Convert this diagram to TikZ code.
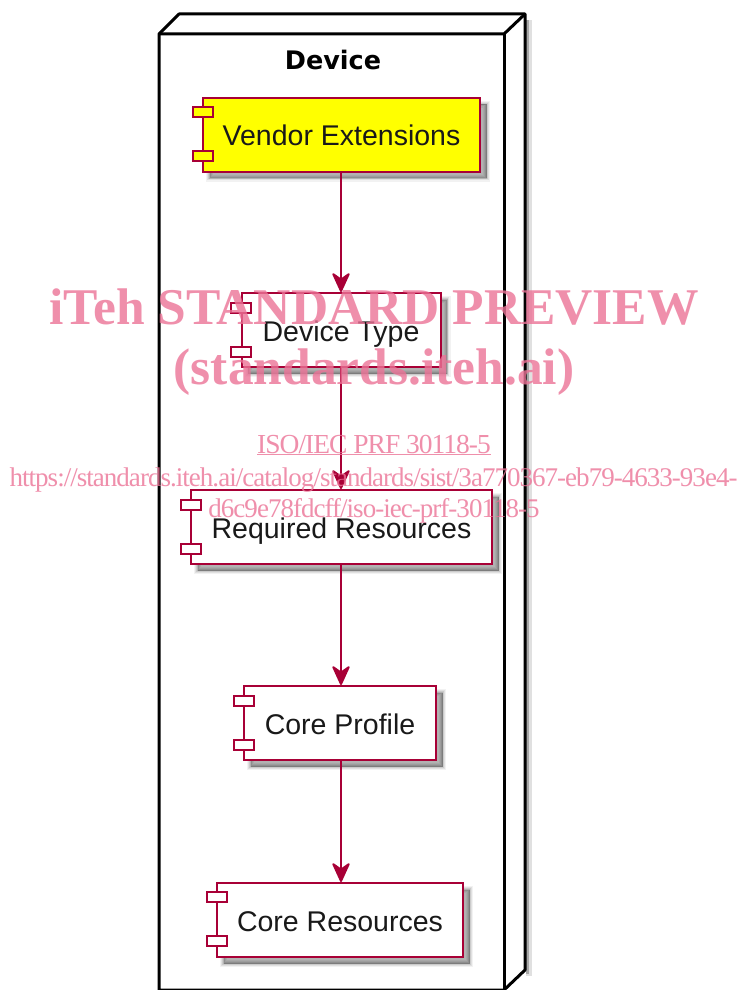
\documentclass[tikz,border=0pt]{standalone}
\usepackage{fontspec}
\setmainfont{Liberation Sans}
\newfontfamily\wmfont{Liberation Serif}
\newfontfamily\wmtight[LetterSpace=-3.6]{Liberation Serif}
\newfontfamily\titlefont{DejaVu Sans}
\usetikzlibrary{arrows.meta}
\definecolor{umlred}{HTML}{A80036}
\definecolor{wmpink}{HTML}{EC7397}
\definecolor{vendoryellow}{HTML}{FFFF00}
\tikzset{
  softshadow/.style={
    preaction={draw=black,fill=black,line width=7pt,opacity=.05,transform canvas={shift={(6.5pt,-6.5pt)}}},
    preaction={draw=black,fill=black,line width=4.5pt,opacity=.07,transform canvas={shift={(6.5pt,-6.5pt)}}},
    preaction={draw=black,fill=black,line width=2.5pt,opacity=.09,transform canvas={shift={(6.5pt,-6.5pt)}}},
    preaction={draw=black,fill=black,line width=.5pt,opacity=.12,transform canvas={shift={(6.5pt,-6.5pt)}}}},
  compbox/.style={draw=umlred,line width=2pt,fill=white,softshadow,minimum height=74pt,inner sep=0pt,
    font=\fontsize{28.5}{30}\selectfont,text=black!90,text height=22pt,text depth=0pt},
  comptab/.style={draw=umlred,line width=2pt,fill=white,minimum width=20pt,minimum height=10pt,inner sep=0pt},
  flow/.style={draw=umlred,line width=2pt,-{Stealth[length=22pt,width=20pt,inset=7pt,round]}},
  wmbig/.style={text=wmpink,opacity=.8,font=\wmfont\bfseries\fontsize{51.5}{53}\selectfont,anchor=base,inner sep=0pt},
  wmsmall/.style={text=wmpink,opacity=.8,font=\wmtight\fontsize{27}{29}\selectfont,anchor=base,inner sep=0pt},
  wmhead/.style={wmsmall,font=\wmtight\fontsize{27.5}{29}\selectfont},
  devline/.style={draw=black,line width=3pt,line join=round}
}
\begin{document}
\begin{tikzpicture}[x=1pt,y=-1pt]
\useasboundingbox (0,0) rectangle (737,990);
\fill[white] (0,0) rectangle (737,990);
% shadow of the 3D node
\fill[black,opacity=.12] (526,20) rectangle (532,976);
\fill[black,opacity=.25] (526,20) rectangle (529,974);
% device node
\draw[devline,fill=white] (159,34) -- (179,14) -- (525,14) -- (525,970) -- (504,990) -- (159,990) -- cycle;
\draw[devline] (159,34) -- (504,34) -- (525,14);
\draw[devline] (504,34) -- (504,990);
\node[font=\titlefont\bfseries\fontsize{25.5}{28}\selectfont,inner sep=0pt,anchor=base] (title) at (333,69.5) {Device};
% components
\node[compbox,fill=vendoryellow,minimum width=277pt] (vendor) at (341.5,134.5) {Vendor Extensions};
\node[compbox,minimum width=199pt] (dtype) at (341,330) {Device Type};
\node[compbox,minimum width=301pt] (req) at (341.5,527) {Required Resources};
\node[compbox,minimum width=192pt] (prof) at (340,723) {Core Profile};
\node[compbox,minimum width=246pt] (res) at (340,920) {Core Resources};
% tabs
\node[comptab,fill=vendoryellow] (v1) at (203,112) {};
\node[comptab,fill=vendoryellow] (v2) at (203,156) {};
\node[comptab] (d1) at (241,308) {};
\node[comptab] (d2) at (241,352) {};
\node[comptab] (r1) at (191,505) {};
\node[comptab] (r2) at (191,549) {};
\node[comptab] (p1) at (244,701) {};
\node[comptab] (p2) at (244,745) {};
\node[comptab] (c1) at (217,897) {};
\node[comptab] (c2) at (217,941) {};
% connectors
\draw[flow] (vendor.south -| dtype.north) -- (dtype.north);
\draw[flow] (dtype.south) -- (req.north -| dtype.south);
\draw[flow] (req.south -| dtype.south) -- (prof.north -| dtype.south);
\draw[flow] (prof.south -| dtype.south) -- (res.north -| dtype.south);
% watermark
\node[wmbig] (w1) at (374,324) {iTeh STANDARD PREVIEW};
\node[wmbig] (w2) at (374,384) {(standards.iteh.ai)};
\node[wmhead] (w3) at (374,453) {\underline{ISO/IEC PRF 30118-5}};
\node[wmsmall] (w4) at (373.5,486) {https://standards.iteh.ai/catalog/standards/sist/3a770367-eb79-4633-93e4-};
\node[wmsmall] (w5) at (374,517) {d6c9e78fdcff/iso-iec-prf-30118-5};
\end{tikzpicture}
\end{document}
